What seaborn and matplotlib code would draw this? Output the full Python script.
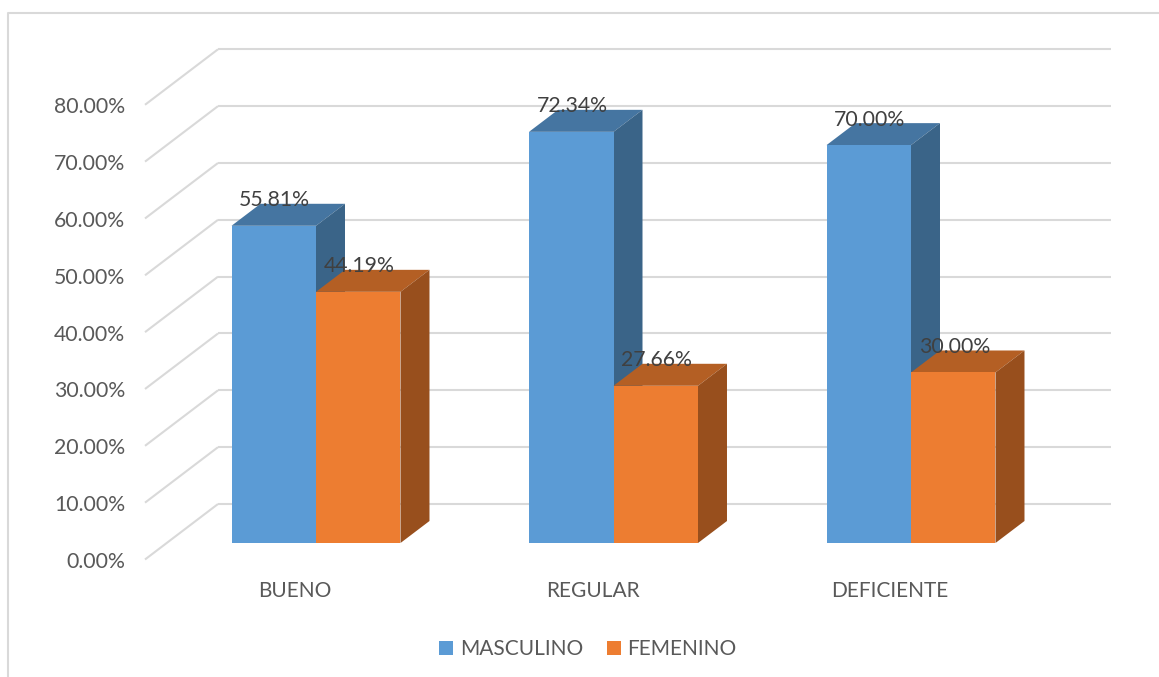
import matplotlib
matplotlib.use("Agg")
import matplotlib.pyplot as plt
import pandas as pd
import seaborn as sns
from matplotlib.lines import Line2D
from matplotlib.patches import Polygon
from matplotlib.transforms import ScaledTranslation

categories = ["BUENO", "REGULAR", "DEFICIENTE"]
masculino = [55.81, 72.34, 70.00]
femenino = [44.19, 27.66, 30.00]
series_names = ["MASCULINO", "FEMENINO"]
y_ticks = [0, 10, 20, 30, 40, 50, 60, 70, 80]

W, H = 1159, 677
DPI = 100
BAR_COLORS = {"MASCULINO": "#5B9BD5", "FEMENINO": "#ED7D31"}
TOP_COLORS = {"MASCULINO": "#4575A1", "FEMENINO": "#B45F24"}
SIDE_COLORS = {"MASCULINO": "#3A6488", "FEMENINO": "#984F1D"}
GRID = "#D9D9D9"
FONT = "Lato"
FS = 15.3

sns.set_theme(style="white")
plt.rcParams["font.family"] = FONT

df = pd.DataFrame({
    "categoria": categories * 2,
    "valor": masculino + femenino,
    "serie": [series_names[0]] * 3 + [series_names[1]] * 3,
})

fig = plt.figure(figsize=(W / DPI, H / DPI), dpi=DPI, facecolor="white")
L, R, T, B = 167.25, 1059.75, 88.3, 543.0
ax = fig.add_axes([L / W, 1 - B / H, (R - L) / W, (B - T) / H])
ax.patch.set_alpha(0)

sns.barplot(data=df, x="categoria", y="valor", hue="serie", palette=BAR_COLORS,
            width=0.568, gap=0, saturation=1, linewidth=0, ax=ax,
            hue_order=series_names, order=categories, legend=False)
ax.set_xlim(-0.5, 2.5)
ax.set_ylim(0, 80)
ax.set_xlabel("")
ax.set_ylabel("")
sns.despine(ax=ax, left=True, bottom=True)

px_x = (R - L) / 3
px_y = (B - T) / 80


def to_x(px):
    return px / px_x


def to_y(px):
    return px / px_y


# depth of the 3D box, of the back wall and of the front edge of the side wall
bar_dx, bar_dy = to_x(29), to_y(22)
back_dx, back_dy = to_x(50.75), to_y(39)
front_dx, front_dy = to_x(-22.25), to_y(-16.5)
x_right_end = 2.5 + to_x(1111 - R)

for v in y_ticks:
    ax.plot([-0.5 + back_dx, x_right_end], [v + back_dy] * 2, color=GRID, lw=1.5,
            clip_on=False, zorder=1, solid_capstyle="butt")
    ax.plot([-0.5 + front_dx, -0.5 + back_dx], [v + front_dy, v + back_dy], color=GRID, lw=1.5,
            clip_on=False, zorder=1, solid_capstyle="butt")

for i, (container, name) in enumerate(zip(ax.containers, series_names)):
    z = 2 + 2 * i
    for bar in container:
        bar.set_zorder(z + 1)
        x0, x1, h = bar.get_x(), bar.get_x() + bar.get_width(), bar.get_height()
        ax.add_patch(Polygon([(x0, h), (x1, h), (x1 + bar_dx, h + bar_dy), (x0 + bar_dx, h + bar_dy)],
                             closed=True, facecolor=TOP_COLORS[name], edgecolor="none",
                             zorder=z, clip_on=False))
        ax.add_patch(Polygon([(x1, 0), (x1, h), (x1 + bar_dx, h + bar_dy), (x1 + bar_dx, bar_dy)],
                             closed=True, facecolor=SIDE_COLORS[name], edgecolor="none",
                             zorder=z, clip_on=False))
        ax.annotate(f"{h:.2f}%", xy=(x0 + bar.get_width() / 2, h), xytext=(0.7, 25.5 * 72 / DPI),
                    textcoords="offset points", ha="center", va="center",
                    fontsize=FS, color="#404040", zorder=10, annotation_clip=False)

ax.set_yticks(y_ticks)
ax.set_yticklabels([f"{v:.2f}%" for v in y_ticks])
ax.set_xticks(range(len(categories)))
ax.set_xticklabels(categories)
ax.tick_params(axis="y", length=0, pad=(L - 125) * 72 / DPI, labelsize=FS, labelcolor="#595959")
ax.tick_params(axis="x", length=0, pad=(590 - 9 - B) * 72 / DPI, labelsize=FS - 0.3, labelcolor="#595959")

y_off = ScaledTranslation(0, -17 / DPI, fig.dpi_scale_trans)
x_off = ScaledTranslation(-21 / DPI, 0, fig.dpi_scale_trans)
for lab in ax.get_yticklabels():
    lab.set_transform(lab.get_transform() + y_off)
for lab in ax.get_xticklabels():
    lab.set_transform(lab.get_transform() + x_off)

handles = [plt.Rectangle((0, 0), 1, 1, facecolor=BAR_COLORS[n], edgecolor="none") for n in series_names]
ax.legend(handles, series_names, ncol=2, frameon=False, fontsize=FS - 0.3,
          loc="center", bbox_to_anchor=(588 / W, 1 - 649 / H), bbox_transform=fig.transFigure,
          handlelength=0.66, handleheight=0.66, handletextpad=0.32, columnspacing=1.15,
          labelcolor="#595959", borderpad=0)

# outer frame of the chart area
fig.add_artist(Line2D([7.5 / W, 7.5 / W, 1], [0, 1 - 13 / H, 1 - 13 / H], color=GRID, lw=1.5))

fig.savefig("out.png", dpi=DPI)
